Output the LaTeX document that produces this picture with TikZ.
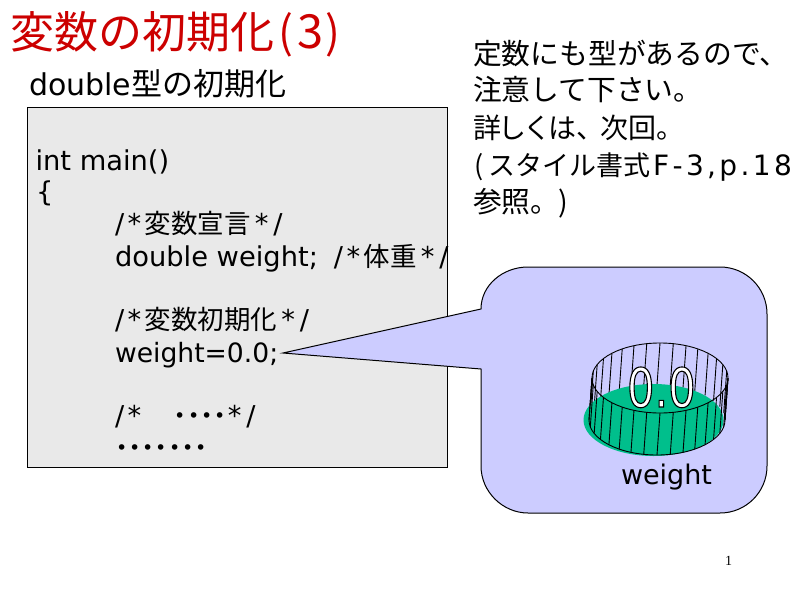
\documentclass[tikz,border=0pt]{standalone}
\usepackage{fontspec}
\setmainfont{DejaVu Sans}
\newfontfamily\jp{Noto Sans CJK JP}
\newfontfamily\numfont{Liberation Serif}
\definecolor{titlered}{HTML}{CC0000}
\definecolor{boxgray}{HTML}{E9E9E9}
\definecolor{bubble}{HTML}{CCCCFF}
\definecolor{tank}{HTML}{00BF8C}
\newcommand{\J}[1]{{\jp\fontsize{26.5}{30}\selectfont #1}}
\newcommand{\R}[1]{{\jp\fontsize{28.8}{30}\selectfont #1}}
\newcommand{\CO}{/\hspace{3.5pt}*\hspace{3.5pt}}
\newcommand{\CC}{\hspace{4pt}*\hspace{5pt}/}
\tikzset{
  txt/.style={anchor=base west,inner sep=0pt,outer sep=0pt,text=black},
  code/.style={txt,font=\fontsize{27.3}{30}\selectfont},
  side/.style={txt,font=\fontsize{28}{30}\selectfont},
  frame/.style={draw=black,line width=1pt},
  rib/.style={draw=black,line width=0.9pt}
}
\begin{document}
\begin{tikzpicture}[x=1pt,y=-1pt]
\useasboundingbox (0,0) rectangle (800,600);
\fill[white] (0,0) rectangle (800,600);
% title and subtitle
\node[txt,text=titlered] (title) at (10,48) {\jp\fontsize{44}{50}\selectfont 変数の初期化\hspace{5pt}(\hspace{4pt}{\fontsize{47}{50}\selectfont 3}\hspace{2pt})};
\node[txt] (sub) at (29,95) {\fontsize{30}{32}\selectfont double{\jp\fontsize{31}{32}\selectfont 型の初期化}};
% code box
\node[frame,fill=boxgray,anchor=north west,minimum width=420pt,minimum height=360pt,inner sep=0pt] (box) at (27,107) {};
% speech bubble
\draw[frame,fill=bubble,line join=miter]
  (283,353) -- (481,309)
  .. controls (481,285) and (503,267) .. (528,267)
  -- (720,267)
  .. controls (746,267) and (767,288) .. (767,314)
  -- (767,466)
  .. controls (767,492) and (746,513) .. (720,513)
  -- (528,513)
  .. controls (503,513) and (481,492) .. (481,466)
  -- (481,369) -- cycle;
% code lines
\node[code] (l1) at (35.5,170) {int main()};
\node[code] (l2) at (36,201) {\{};
\node[code] (l3) at (115,233) {\CO\J{変数宣言}\CC};
\node[code] (l4) at (115,266) {double weight;\hspace{16pt}\CO\J{体重}\CC};
\node[code] (l5) at (115,329) {\CO\J{変数初期化}\CC};
\node[code,font=\fontsize{26.6}{30}\selectfont] (l6) at (115,362) {weight=0.0;};
\node[code] (l7) at (115,425) {\CO\hspace{29pt}\J{\bfseries ････}\hspace{-3pt}\CC};
\node[code] (l8) at (115,457) {\J{\bfseries ･･･････}};
% side text
\node[side] (s1) at (473,64) {\R{定数にも型があるので、}};
\node[side] (s2) at (473,100) {\R{注意して下さい。}};
\node[side] (s3) at (473,138) {{\jp\fontsize{28}{30}\selectfont 詳\hspace{-3pt}し\hspace{-3pt}く\hspace{-3pt}は、\hspace{-4pt}次回。}};
\node[side] (s4) at (473,175) {{\jp\fontsize{27}{30}\selectfont\hspace{1pt}(\hspace{5pt}スタイル書式}\hspace{3pt}\addfontfeature{LetterSpace=12}F-3,p.18};
\node[side] (s5) at (473,212) {\R{参照。\hspace{-1pt})}};
% tank: back ribs
\foreach \a in {180,191.25,...,360}
  \draw[rib] ({660+68*cos(\a)},{378+35*sin(\a)}) -- ({657+68*cos(\a)},{420+35*sin(\a)});
\fill[tank] (653.5,420) ellipse [x radius=70,y radius=36];
% tank: front ribs
\foreach \a in {0,11.25,...,180}
  \draw[rib] ({660+68*cos(\a)},{378+35*sin(\a)}) -- ({657+68*cos(\a)},{420+35*sin(\a)});
\draw[rib] (660,378) ellipse [x radius=68,y radius=35];
\draw[rib] (592,378) -- (589,420);
\draw[rib] (728,378) -- (725,420);
\draw[rib] (589,420) arc [start angle=180,delta angle=-180,x radius=68,y radius=35];
\node[txt] (val) at (627,407) {\fontsize{54}{56}\selectfont\addfontfeature{FakeStretch=0.8,FakeBold=2}\color{white}\special{pdf:code 0 G}0.0};
\node[txt,font=\fontsize{27}{30}\selectfont] (wlab) at (621,484) {weight};
\node[txt,font=\numfont\fontsize{14}{16}\selectfont] (page) at (725,565) {1};
\end{tikzpicture}
\end{document}
